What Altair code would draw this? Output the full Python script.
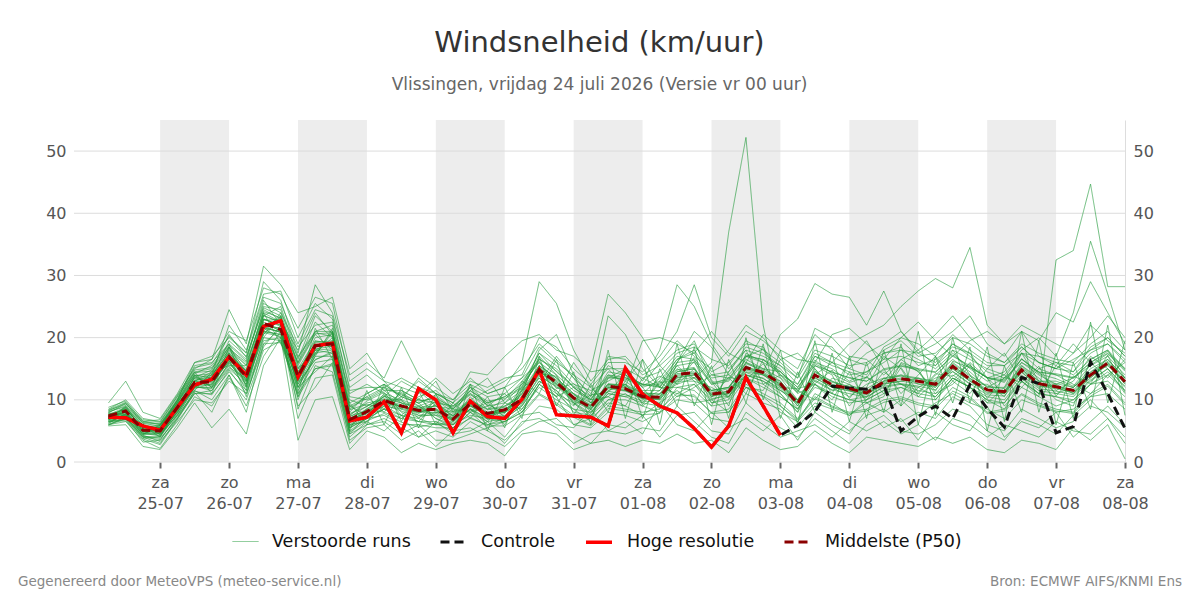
import altair as alt
import pandas as pd

TITLE = "Windsnelheid (km/uur)"
SUBTITLE = "Vlissingen, vrijdag 24 juli 2026 (Versie vr 00 uur)"
FOOTER_LEFT = "Gegenereerd door MeteoVPS (meteo-service.nl)"
FOOTER_RIGHT = "Bron: ECMWF AIFS/KNMI Ens"

SERIES = ["Verstoorde runs", "Controle", "Hoge resolutie", "Middelste (P50)"]
SERIES_COLORS = ["#229a3a", "#111111", "#ff0000", "#8b0000"]
SERIES_WIDTHS = [1, 3, 3.5, 3]
SERIES_DASHES = [[1, 0], [9, 5], [1, 0], [9, 5]]
SERIES_OPACITY = [0.65, 1, 1, 1]

# forecast steps: every 6 hours from 24-07 06:00 UTC
FIRST_STEP = "2026-07-24 06:00"
STEP_HOURS = 6
DOMAIN_START = "2026-07-23 18:00"
DOMAIN_END = "2026-08-08 00:00"

WEEKDAYS = ["zo", "ma", "di", "wo", "do", "vr", "za"]
TICK_DATES = ["2026-07-25", "2026-07-26", "2026-07-27", "2026-07-28", "2026-07-29",
              "2026-07-30", "2026-07-31", "2026-08-01", "2026-08-02", "2026-08-03",
              "2026-08-04", "2026-08-05", "2026-08-06", "2026-08-07", "2026-08-08"]
SHADED_DAYS = ["2026-07-25", "2026-07-27", "2026-07-29", "2026-07-31",
               "2026-08-02", "2026-08-04", "2026-08-06"]
Y_TICKS = [0, 10, 20, 30, 40, 50]
Y_MAX = 55

HOGE_RESOLUTIE = [
    7.2, 7.1, 5.8, 5.1, 8.8, 12.4, 13.3, 16.9, 14.0, 21.8,
    22.7, 13.7, 18.7, 19.1, 6.6, 7.2, 9.7, 4.7, 11.8, 10.0,
    4.7, 9.8, 7.3, 7.0, 10.1, 14.8, 7.6, 7.4, 7.2, 5.8,
    15.1, 10.9, 9.0, 7.9, 5.4, 2.4, 5.8, 13.6, 9.0, 4.3,
]

CONTROLE = [
    7.2, 7.1, 5.8, 5.1, 8.8, 12.4, 13.3, 16.9, 14.0, 21.8,
    22.7, 13.7, 18.7, 19.1, 6.6, 7.2, 9.7, 4.7, 11.8, 10.0,
    4.7, 9.8, 7.3, 7.0, 10.1, 14.8, 7.6, 7.4, 7.2, 5.8,
    15.1, 10.9, 9.0, 7.9, 5.4, 2.4, 5.8, 13.6, 9.0, 4.3,
    5.9, 8.1, 12.2, 11.9, 11.7, 12.4, 5.0, 7.3, 9.0, 7.0,
    12.4, 8.6, 5.6, 13.6, 12.6, 4.7, 5.7, 16.1, 11.0, 5.4,
]

MIDDELSTE = [
    7.4, 8.2, 5.1, 5.0, 8.8, 12.8, 12.9, 16.9, 13.7, 22.3,
    21.3, 13.8, 18.7, 19.0, 6.8, 8.1, 9.9, 9.0, 8.3, 8.5,
    6.9, 9.4, 7.8, 8.4, 10.1, 14.8, 12.8, 10.3, 8.8, 12.2,
    11.8, 10.5, 10.4, 14.1, 14.4, 10.9, 11.3, 15.2, 14.4, 12.6,
    9.4, 14.0, 12.4, 11.8, 11.1, 12.9, 13.4, 13.0, 12.5, 15.4,
    13.3, 11.6, 11.3, 14.8, 12.6, 12.1, 11.5, 14.0, 15.9, 12.9,
]

VERSTOORDE_RUNS = [
    [8.0, 9.1, 6.0, 4.4, 7.5, 12.0, 13.5, 17.8, 15.0, 24.5,
     23.0, 12.0, 17.0, 21.5, 7.5, 9.8, 11.2, 8.0, 6.5, 9.5,
     7.2, 12.5, 9.0, 6.0, 11.5, 17.0, 14.0, 9.5, 7.0, 13.5,
     15.0, 12.0, 8.5, 16.0, 19.5, 13.0, 9.0, 17.5, 16.0, 11.0,
     8.0, 15.5, 14.0, 9.0, 12.0, 17.0, 15.0, 10.5, 13.0, 18.0,
     14.0, 9.5, 12.0, 17.5, 13.0, 10.0, 9.0, 16.5, 18.0, 13.5],
    [6.5, 7.5, 4.5, 5.5, 9.5, 14.0, 12.0, 15.5, 12.0, 20.5,
     24.0, 15.5, 20.5, 18.0, 5.5, 7.0, 8.5, 10.5, 9.5, 7.0,
     5.5, 8.0, 6.5, 9.5, 8.5, 12.5, 10.5, 12.0, 10.0, 10.5,
     9.0, 13.5, 12.0, 12.0, 11.5, 9.0, 14.5, 18.0, 12.5, 14.0,
     11.0, 12.5, 10.0, 14.5, 9.5, 10.5, 16.0, 15.0, 10.0, 13.0,
     16.0, 13.5, 9.0, 12.0, 15.0, 14.0, 12.5, 11.0, 14.0, 16.0],
    [7.0, 8.5, 5.5, 6.0, 10.0, 15.5, 16.0, 19.0, 16.5, 26.0,
     22.0, 16.0, 22.5, 20.0, 9.0, 10.5, 12.0, 11.0, 9.0, 10.0,
     8.0, 10.0, 11.5, 13.0, 15.0, 19.0, 16.5, 13.5, 11.0, 15.5,
     14.0, 12.5, 16.0, 19.5, 17.0, 15.0, 18.0, 22.0, 20.0, 16.5,
     14.0, 19.0, 18.5, 15.0, 17.5, 19.0, 21.0, 17.5, 19.0, 21.0,
     23.5, 19.0, 17.0, 21.0, 19.5, 24.0, 22.5, 29.0, 24.0, 19.0],
    [7.8, 7.0, 4.2, 3.8, 7.0, 11.0, 11.5, 15.0, 12.5, 21.0,
     20.5, 12.5, 16.5, 17.5, 6.0, 6.5, 9.0, 7.5, 7.0, 6.0,
     6.5, 8.5, 6.0, 7.0, 9.0, 13.0, 11.5, 8.0, 7.5, 10.0,
     11.0, 9.0, 11.0, 12.5, 13.5, 16.0, 37.0, 52.2, 22.0, 9.0,
     6.5, 11.0, 9.5, 7.5, 10.0, 11.5, 9.0, 12.0, 10.5, 13.5,
     12.0, 10.0, 8.5, 13.0, 10.5, 9.0, 10.0, 12.5, 13.0, 10.5],
    [6.0, 6.5, 3.5, 2.2, 6.0, 10.5, 9.0, 13.5, 10.0, 18.0,
     19.5, 10.5, 15.0, 15.5, 4.5, 6.0, 7.0, 5.5, 4.0, 5.0,
     4.0, 6.5, 5.0, 3.5, 6.0, 9.0, 8.5, 6.0, 5.5, 8.0,
     7.5, 6.5, 8.0, 10.0, 9.5, 7.0, 6.5, 11.0, 9.5, 8.5,
     5.5, 9.0, 7.0, 5.0, 7.5, 8.5, 6.5, 8.0, 7.0, 10.5,
     9.0, 6.0, 5.0, 8.5, 7.0, 5.5, 6.5, 9.0, 8.0, 5.5],
    [8.5, 10.0, 7.0, 6.5, 10.5, 14.5, 15.0, 18.5, 14.5, 23.5,
     25.0, 17.0, 21.0, 22.0, 10.0, 9.0, 10.5, 13.0, 11.5, 9.0,
     8.5, 11.0, 8.5, 10.0, 13.0, 16.5, 15.0, 12.0, 9.5, 14.0,
     13.0, 11.0, 13.5, 17.0, 16.5, 12.5, 13.0, 16.5, 15.0, 14.5,
     12.0, 16.0, 15.0, 13.0, 14.5, 16.0, 18.0, 16.5, 15.0, 17.5,
     15.0, 13.0, 14.0, 12.0, 10.5, 32.5, 34.0, 44.7, 28.2, 28.2],
    [7.2, 8.0, 5.0, 4.8, 8.5, 13.0, 14.0, 22.0, 18.0, 27.0,
     27.5, 20.0, 25.5, 23.0, 12.0, 14.0, 11.5, 9.5, 7.5, 8.0,
     7.5, 9.0, 8.0, 8.0, 11.0, 18.0, 20.5, 14.0, 10.5, 23.5,
     20.5, 15.0, 12.0, 11.0, 12.5, 10.0, 11.0, 14.0, 13.0, 11.5,
     10.0, 13.0, 11.5, 12.5, 11.0, 14.5, 12.5, 11.0, 14.0, 16.5,
     14.5, 12.0, 13.5, 16.0, 14.0, 12.5, 13.5, 15.5, 17.0, 14.0],
    [6.8, 7.2, 4.0, 3.0, 7.0, 11.5, 10.0, 14.0, 9.0, 17.0,
     21.0, 9.0, 12.0, 16.0, 3.5, 5.5, 6.0, 3.5, 5.0, 2.5,
     5.0, 5.5, 4.0, 2.5, 5.0, 6.5, 7.0, 4.5, 3.0, 6.0,
     5.5, 7.5, 4.0, 7.5, 8.0, 5.0, 4.5, 9.5, 7.0, 5.5,
     4.0, 7.0, 5.0, 3.0, 6.0, 7.5, 5.0, 4.5, 6.0, 8.5,
     7.5, 5.0, 3.5, 7.0, 6.0, 4.5, 7.5, 10.0, 7.0, 4.0],
    [7.5, 8.5, 5.5, 5.5, 9.5, 13.5, 13.0, 16.0, 13.0, 21.5,
     21.0, 14.5, 19.0, 18.5, 7.5, 9.5, 10.0, 10.0, 9.0, 7.5,
     7.0, 10.5, 7.5, 9.0, 10.5, 14.0, 12.0, 11.0, 8.0, 11.5,
     12.5, 10.0, 11.5, 15.0, 13.5, 11.5, 12.0, 15.5, 14.0, 13.0,
     9.0, 14.0, 13.0, 11.5, 10.5, 13.5, 14.0, 12.5, 12.0, 15.0,
     13.0, 11.5, 11.0, 15.0, 12.5, 12.0, 11.0, 13.5, 16.0, 12.5],
    [9.5, 13.0, 8.0, 7.0, 11.0, 16.0, 17.0, 20.0, 17.5, 29.0,
     26.0, 17.5, 28.5, 24.0, 14.0, 16.0, 13.5, 19.5, 14.0, 12.0,
     10.0, 13.5, 11.0, 12.0, 16.0, 29.0, 25.5, 18.0, 13.0, 16.5,
     17.0, 14.0, 15.5, 18.0, 19.0, 14.5, 16.0, 19.0, 18.5, 14.0,
     12.5, 17.5, 16.0, 15.0, 14.0, 18.5, 20.0, 19.0, 17.0, 20.5,
     18.0, 16.0, 15.5, 18.5, 16.0, 15.0, 17.5, 22.0, 19.5, 17.5],
    [6.2, 7.8, 4.8, 4.5, 8.0, 12.5, 12.5, 17.0, 14.0, 22.0,
     21.5, 13.0, 18.0, 19.5, 6.5, 8.0, 9.5, 9.0, 8.0, 8.5,
     6.5, 9.0, 7.5, 8.0, 9.5, 14.5, 12.5, 10.0, 8.5, 12.0,
     11.5, 10.5, 10.0, 13.5, 14.0, 10.5, 11.5, 14.5, 14.0, 12.0,
     9.5, 13.5, 12.0, 11.5, 11.0, 12.5, 13.0, 13.5, 12.0, 15.5,
     13.5, 11.0, 11.5, 14.5, 12.0, 12.5, 11.0, 14.0, 15.5, 13.0],
    [7.0, 7.6, 5.3, 5.3, 9.0, 13.0, 14.5, 18.0, 15.5, 24.0,
     22.5, 14.0, 20.0, 20.5, 8.0, 11.0, 12.5, 10.5, 13.0, 11.0,
     9.5, 12.0, 10.5, 11.0, 13.5, 16.0, 13.0, 10.5, 9.0, 17.0,
     16.5, 13.0, 18.0, 28.5, 25.0, 19.0, 15.0, 18.0, 17.0, 15.5,
     13.5, 21.5, 20.0, 17.0, 16.5, 14.0, 16.5, 18.0, 15.5, 19.0,
     17.0, 14.5, 13.5, 17.5, 15.0, 16.0, 14.5, 18.5, 20.0, 17.0],
    [6.5, 6.8, 3.2, 3.5, 7.5, 11.0, 11.0, 14.5, 11.5, 19.5,
     20.0, 11.5, 16.0, 16.5, 5.0, 7.0, 7.5, 6.0, 6.0, 5.5,
     5.5, 7.0, 6.0, 6.5, 8.0, 11.0, 9.5, 7.5, 6.0, 9.0,
     8.5, 8.0, 8.5, 11.0, 10.5, 8.0, 8.5, 12.5, 11.0, 9.5,
     7.0, 10.5, 9.0, 8.0, 8.5, 10.0, 10.5, 9.5, 9.0, 12.0,
     10.5, 8.0, 8.5, 11.0, 9.5, 8.5, 8.0, 11.0, 12.5, 9.5],
    [8.2, 9.5, 6.2, 5.8, 9.8, 14.0, 13.5, 19.5, 17.0, 25.0,
     24.5, 16.5, 23.5, 21.0, 11.0, 12.5, 11.0, 8.5, 10.5, 11.5,
     9.0, 11.5, 9.5, 10.5, 12.0, 17.5, 15.5, 12.5, 11.5, 13.0,
     14.5, 12.0, 13.0, 16.5, 17.5, 13.5, 14.0, 17.0, 16.5, 15.0,
     11.5, 17.0, 15.5, 14.5, 13.5, 17.5, 18.5, 15.5, 16.5, 18.5,
     17.5, 13.5, 14.5, 18.0, 20.0, 17.0, 24.0, 35.5, 27.0, 18.0],
    [5.8, 6.0, 2.5, 2.0, 5.5, 9.5, 5.5, 8.5, 4.5, 15.5,
     20.0, 3.5, 10.0, 10.5, 2.0, 5.0, 4.0, 1.5, 3.0, 2.0,
     3.0, 3.5, 3.0, 1.0, 4.5, 5.0, 4.5, 2.0, 3.0, 3.5,
     2.5, 3.5, 3.0, 4.5, 3.0, 3.5, 1.5, 5.5, 3.5, 2.0,
     2.5, 5.0, 3.0, 1.5, 4.0, 3.5, 3.0, 2.5, 4.0, 3.0,
     4.0, 2.0, 1.5, 3.5, 3.0, 2.0, 5.5, 3.5, 6.0, 0.5],
    [7.6, 8.8, 5.8, 5.2, 9.2, 13.5, 14.0, 17.5, 14.5, 23.0,
     22.0, 15.0, 19.5, 19.0, 7.0, 8.5, 10.5, 9.5, 8.5, 9.0,
     7.0, 10.0, 8.0, 8.5, 10.0, 15.5, 13.5, 11.0, 9.0, 12.5,
     12.0, 11.0, 10.5, 14.5, 15.0, 11.5, 12.0, 16.0, 15.0, 13.5,
     10.0, 14.5, 13.0, 12.0, 11.5, 13.0, 14.0, 13.5, 13.0, 16.0,
     14.0, 12.0, 12.0, 15.5, 13.0, 13.0, 12.0, 14.5, 16.5, 13.5],
    [6.9, 7.4, 4.6, 4.2, 8.2, 12.2, 11.5, 16.0, 12.5, 21.0,
     20.5, 12.5, 17.5, 18.0, 6.0, 7.5, 9.0, 8.5, 7.5, 7.5,
     6.0, 8.5, 7.0, 7.5, 9.5, 13.5, 11.5, 9.0, 15.0, 27.0,
     24.0, 20.0, 15.5, 12.5, 15.0, 9.5, 10.5, 13.5, 12.5, 10.5,
     8.5, 12.0, 11.0, 10.0, 10.5, 12.0, 12.5, 11.5, 11.0, 14.0,
     12.0, 10.5, 10.0, 13.5, 11.5, 11.0, 10.5, 13.0, 15.0, 12.0],
    [8.8, 9.8, 6.5, 6.8, 10.8, 15.0, 16.5, 21.0, 19.5, 28.0,
     27.0, 21.5, 26.5, 25.5, 13.0, 15.0, 13.0, 12.0, 11.0, 13.5,
     11.0, 13.0, 12.0, 13.5, 14.0, 20.0, 18.5, 15.0, 12.5, 16.0,
     16.0, 14.5, 17.0, 21.0, 28.5, 20.0, 17.0, 21.0, 19.5, 17.0,
     15.0, 20.5, 18.0, 16.5, 15.5, 18.0, 19.5, 17.0, 17.5, 20.0,
     19.0, 17.0, 16.0, 19.0, 17.5, 16.5, 16.0, 19.0, 21.0, 18.0],
    [7.3, 8.0, 5.2, 4.9, 8.6, 12.6, 13.2, 16.5, 13.5, 22.5,
     21.0, 13.5, 18.5, 19.0, 6.8, 8.0, 9.8, 9.0, 8.2, 8.3,
     6.8, 9.2, 7.6, 8.2, 10.0, 14.6, 12.6, 10.2, 8.6, 12.0,
     11.5, 10.2, 10.2, 13.8, 14.2, 10.8, 11.0, 15.0, 14.2, 12.5,
     10.0, 14.0, 16.0, 19.0, 20.5, 22.0, 25.0, 27.5, 29.5, 28.0,
     34.5, 22.0, 19.0, 21.0, 17.0, 15.5, 14.0, 16.5, 18.0, 15.0],
    [6.4, 7.1, 4.4, 4.6, 8.0, 12.0, 12.0, 15.8, 12.8, 20.0,
     19.5, 12.0, 17.0, 17.0, 5.5, 7.0, 8.5, 7.0, 6.5, 6.5,
     5.5, 8.0, 5.5, 6.5, 8.5, 12.0, 10.0, 8.5, 6.5, 10.0,
     10.0, 9.0, 8.0, 12.0, 12.5, 9.0, 9.5, 13.5, 12.0, 10.5,
     8.5, 12.5, 11.0, 10.0, 9.5, 11.0, 12.0, 11.0, 10.5, 13.5,
     12.0, 10.0, 9.5, 13.0, 11.0, 10.5, 9.5, 12.5, 14.0, 11.5],
    [7.1, 8.3, 4.9, 5.9, 9.9, 14.5, 11.0, 18.5, 12.0, 24.0,
     19.0, 15.0, 17.5, 21.0, 5.0, 11.5, 6.0, 12.0, 5.5, 11.0,
     4.5, 12.5, 5.0, 12.0, 7.0, 17.0, 9.0, 14.5, 6.0, 18.0,
     7.0, 16.5, 6.0, 19.0, 9.0, 15.5, 7.0, 20.0, 10.0, 18.0,
     6.0, 19.5, 8.0, 17.0, 7.0, 18.0, 9.0, 21.0, 7.5, 20.0,
     9.5, 18.5, 6.5, 21.0, 8.0, 17.5, 7.0, 22.5, 9.5, 19.5],
    [7.9, 7.5, 5.8, 4.0, 9.0, 11.5, 14.5, 15.5, 15.5, 21.0,
     23.5, 11.0, 21.5, 16.5, 9.5, 6.0, 12.5, 6.5, 11.5, 6.0,
     9.5, 7.0, 10.5, 5.5, 13.0, 11.0, 16.5, 7.5, 12.5, 8.0,
     15.5, 7.0, 15.0, 9.0, 18.5, 6.0, 16.5, 9.5, 19.0, 7.0,
     14.5, 8.0, 17.5, 6.5, 16.0, 8.0, 19.0, 6.0, 17.0, 9.5,
     18.5, 5.0, 15.5, 8.0, 19.5, 6.0, 16.0, 8.5, 22.0, 7.5],
    [6.7, 9.0, 5.0, 5.6, 9.6, 14.2, 15.5, 19.0, 13.0, 23.0,
     22.0, 10.0, 17.5, 20.0, 8.5, 10.5, 8.0, 11.5, 10.0, 13.0,
     8.0, 11.5, 13.5, 9.5, 11.5, 13.5, 10.5, 16.0, 12.0, 9.0,
     13.0, 16.5, 12.0, 16.0, 21.0, 18.5, 14.0, 12.0, 11.5, 16.5,
     17.5, 15.0, 11.0, 16.5, 19.5, 15.0, 11.0, 14.0, 17.0, 13.0,
     11.0, 15.0, 17.5, 13.0, 11.0, 15.5, 19.0, 16.0, 13.5, 16.5],
    [7.4, 8.6, 5.4, 4.5, 8.0, 12.0, 13.8, 18.2, 16.0, 23.5,
     22.5, 18.0, 24.0, 20.5, 9.0, 7.5, 11.0, 10.0, 7.0, 10.0,
     8.5, 8.0, 9.0, 11.0, 8.0, 12.5, 17.0, 13.5, 9.5, 10.5,
     12.5, 9.5, 13.0, 10.5, 12.0, 14.0, 13.5, 11.0, 16.5, 14.0,
     11.5, 10.0, 13.5, 12.5, 10.0, 13.0, 16.5, 14.5, 11.0, 12.5,
     15.5, 13.5, 11.0, 16.0, 14.5, 11.5, 13.0, 17.0, 15.0, 11.0],
    [6.3, 7.7, 4.3, 3.3, 6.5, 10.0, 9.5, 13.0, 11.0, 18.5,
     22.0, 8.5, 15.5, 14.5, 4.0, 6.5, 5.0, 7.5, 4.0, 6.5,
     4.5, 5.0, 6.5, 4.0, 7.5, 8.0, 6.0, 5.5, 8.5, 5.0,
     6.5, 4.5, 9.5, 6.0, 5.0, 8.0, 5.5, 7.0, 5.0, 7.5,
     3.5, 8.0, 6.0, 4.5, 8.5, 5.5, 7.0, 3.5, 8.0, 6.0,
     5.0, 9.0, 4.0, 6.5, 5.5, 8.0, 4.0, 6.5, 9.0, 6.0],
    [8.1, 8.9, 6.4, 6.2, 10.2, 14.8, 15.2, 18.8, 16.2, 25.5,
     24.0, 18.5, 22.0, 22.5, 10.5, 10.0, 11.5, 11.5, 10.0, 9.5,
     9.0, 11.0, 9.5, 10.5, 12.5, 17.5, 14.5, 12.0, 10.0, 13.5,
     13.5, 12.5, 12.0, 15.5, 16.0, 12.5, 13.5, 17.0, 16.0, 14.5,
     12.0, 15.5, 14.5, 13.5, 13.0, 15.0, 15.5, 15.0, 14.5, 17.0,
     15.5, 13.5, 13.0, 16.5, 14.5, 14.0, 13.5, 16.0, 17.5, 15.0],
    [5.9, 7.3, 4.1, 4.0, 7.8, 12.3, 12.4, 16.4, 11.5, 21.5,
     20.0, 10.5, 18.0, 17.5, 5.5, 8.5, 8.0, 7.0, 9.0, 7.0,
     6.0, 8.5, 6.5, 7.0, 9.0, 13.0, 11.0, 9.5, 7.5, 11.0,
     10.5, 9.5, 9.0, 13.0, 13.0, 9.5, 10.0, 14.0, 13.0, 11.0,
     8.0, 12.5, 10.5, 9.5, 10.0, 11.5, 12.0, 10.5, 10.0, 13.5,
     12.0, 9.5, 9.5, 13.5, 11.0, 10.5, 10.0, 12.5, 14.5, 11.5],
    [7.7, 8.4, 5.6, 5.4, 9.0, 13.2, 13.6, 17.2, 14.2, 23.0,
     21.8, 14.5, 19.2, 19.5, 7.2, 9.0, 10.2, 9.5, 8.8, 9.0,
     7.5, 10.0, 8.5, 9.0, 11.0, 15.5, 13.5, 11.0, 9.5, 12.5,
     12.5, 11.0, 11.0, 14.5, 15.0, 11.5, 12.0, 16.0, 14.5, 20.5,
     23.0, 28.7, 27.0, 26.5, 22.0, 27.5, 21.0, 18.0, 20.5, 23.5,
     20.0, 17.5, 16.0, 18.5, 16.0, 15.0, 16.5, 18.0, 19.0, 16.5],
    [7.0, 8.1, 5.0, 5.1, 8.7, 12.7, 12.8, 16.8, 13.6, 22.2,
     21.2, 13.7, 18.6, 18.9, 6.7, 8.0, 9.8, 8.9, 8.2, 8.4,
     6.8, 9.3, 7.7, 8.3, 10.0, 14.7, 12.7, 10.2, 8.7, 12.1,
     11.7, 10.4, 10.3, 14.0, 14.3, 10.8, 11.2, 15.1, 14.3, 12.5,
     9.3, 13.9, 12.3, 11.7, 11.0, 12.8, 13.3, 12.9, 12.4, 15.3,
     13.2, 11.5, 11.2, 14.7, 12.5, 12.0, 11.4, 13.9, 15.8, 12.8],
    [6.6, 6.6, 3.8, 4.1, 8.4, 13.8, 12.0, 17.5, 10.5, 20.0,
     23.5, 12.0, 14.5, 17.0, 4.5, 7.5, 8.5, 7.5, 6.5, 6.0,
     6.0, 7.5, 7.0, 6.5, 8.0, 12.5, 10.5, 6.0, 7.0, 9.5,
     9.0, 7.5, 9.5, 11.5, 9.5, 10.0, 8.0, 12.0, 10.5, 8.0,
     6.5, 9.5, 8.5, 7.5, 9.5, 8.0, 10.0, 7.5, 9.5, 11.0,
     9.5, 8.5, 7.0, 10.0, 9.0, 8.0, 8.5, 10.5, 11.0, 8.5],
    [7.5, 8.0, 6.0, 5.5, 10.0, 16.0, 16.5, 24.5, 19.0, 31.5,
     28.5, 24.0, 25.0, 26.5, 15.0, 17.5, 13.0, 10.0, 13.5, 11.0,
     9.5, 14.5, 14.0, 17.0, 19.5, 20.5, 18.0, 17.0, 14.5, 15.0,
     12.0, 19.5, 20.0, 19.0, 17.5, 21.0, 17.5, 16.0, 20.5, 18.0,
     16.5, 16.0, 20.5, 21.5, 19.0, 16.5, 20.0, 22.5, 19.5, 17.0,
     19.5, 21.0, 19.0, 22.0, 20.5, 19.0, 17.5, 20.0, 23.5, 20.0],
    [6.9, 7.9, 4.7, 4.3, 7.6, 11.8, 12.6, 16.2, 14.8, 21.8,
     20.8, 13.0, 18.0, 18.2, 6.2, 8.6, 10.0, 9.2, 7.8, 9.2,
     7.8, 9.8, 6.8, 7.8, 11.5, 15.5, 11.0, 8.5, 8.0, 11.0,
     10.5, 11.5, 11.5, 15.5, 13.0, 12.0, 10.5, 14.0, 13.5, 11.5,
     9.5, 15.0, 12.0, 10.5, 12.5, 13.5, 12.5, 12.0, 13.5, 14.5,
     12.5, 12.5, 10.5, 15.5, 13.5, 11.0, 12.0, 15.0, 16.5, 13.5],
    [6.1, 7.0, 3.7, 2.8, 6.8, 11.2, 8.0, 14.0, 8.0, 19.0,
     21.5, 7.0, 13.5, 14.0, 3.0, 6.0, 6.5, 4.5, 6.0, 3.5,
     3.5, 4.5, 5.5, 3.0, 6.5, 7.0, 5.5, 3.0, 4.5, 5.0,
     4.5, 5.5, 5.0, 9.0, 6.5, 4.0, 3.0, 8.0, 6.0, 4.0,
     5.0, 6.0, 4.0, 6.5, 5.0, 6.5, 4.5, 6.0, 3.5, 7.0,
     6.0, 4.0, 6.0, 5.0, 4.0, 6.5, 5.0, 4.5, 7.0, 3.0],
    [8.3, 9.3, 6.6, 6.0, 9.6, 13.6, 14.8, 20.5, 16.8, 24.8,
     23.5, 16.0, 21.0, 21.0, 9.5, 11.0, 12.5, 10.5, 9.5, 10.5,
     8.5, 12.0, 9.0, 9.5, 12.5, 16.0, 14.0, 11.5, 10.0, 14.5,
     14.0, 12.5, 12.5, 16.5, 18.0, 14.0, 14.5, 18.5, 17.5, 15.5,
     12.5, 17.0, 16.0, 14.0, 14.5, 16.5, 17.0, 16.0, 15.5, 18.0,
     16.5, 15.0, 14.0, 17.5, 16.0, 15.0, 14.5, 17.5, 19.0, 16.0],
    [7.2, 7.7, 5.3, 5.7, 9.3, 12.9, 13.3, 16.6, 13.2, 22.0,
     21.5, 14.0, 18.8, 18.8, 7.0, 8.3, 9.6, 8.8, 8.4, 8.6,
     7.0, 9.5, 7.8, 8.5, 10.2, 14.9, 12.9, 10.4, 8.9, 12.3,
     11.9, 10.6, 10.5, 14.2, 14.5, 11.0, 11.4, 15.3, 14.5, 12.7,
     9.5, 14.1, 12.5, 11.9, 11.2, 13.0, 13.5, 13.1, 12.6, 15.5,
     13.4, 11.7, 11.4, 14.9, 12.7, 12.2, 11.6, 14.1, 16.0, 13.0],
    [7.0, 8.8, 5.9, 4.7, 8.3, 13.9, 14.2, 18.6, 12.2, 22.8,
     22.9, 16.8, 20.8, 20.2, 8.4, 9.3, 8.6, 11.2, 9.4, 10.8,
     8.6, 10.8, 9.2, 8.0, 12.2, 16.3, 11.8, 12.6, 10.2, 13.7,
     13.3, 12.2, 13.8, 12.6, 16.8, 13.2, 10.2, 16.9, 18.2, 13.6,
     11.2, 16.4, 14.2, 12.8, 13.6, 12.2, 15.8, 14.6, 11.4, 16.2,
     15.2, 13.6, 12.8, 16.6, 14.2, 13.4, 12.2, 15.6, 17.4, 14.6],
    [6.6, 7.4, 4.6, 4.8, 8.9, 12.1, 11.8, 15.2, 13.4, 20.8,
     20.2, 12.8, 16.4, 17.8, 5.8, 7.2, 9.2, 8.2, 7.2, 7.8,
     6.2, 8.6, 7.0, 7.4, 9.2, 13.8, 12.2, 9.6, 7.8, 11.4,
     10.8, 9.8, 9.6, 13.2, 13.6, 10.2, 10.6, 14.4, 13.4, 11.8,
     8.6, 13.2, 11.6, 11.0, 10.4, 12.2, 12.6, 12.2, 11.6, 14.6,
     12.6, 10.8, 10.6, 14.0, 11.8, 11.4, 10.8, 13.2, 15.0, 12.2],
    [7.6, 8.0, 4.4, 5.9, 9.4, 12.2, 14.0, 17.6, 14.6, 20.5,
     23.2, 15.2, 17.2, 20.8, 7.8, 8.9, 10.8, 7.5, 10.2, 8.0,
     8.2, 8.2, 9.6, 7.2, 11.8, 14.2, 13.8, 9.2, 10.8, 11.2,
     14.2, 9.2, 12.8, 13.0, 16.2, 10.4, 13.6, 13.2, 15.8, 12.0,
     11.8, 12.6, 14.8, 10.2, 13.8, 11.0, 15.2, 11.2, 14.2, 13.8,
     15.8, 10.2, 13.6, 12.8, 15.4, 10.6, 13.8, 12.6, 17.2, 11.2],
    [8.4, 9.6, 6.8, 6.4, 10.6, 15.2, 15.8, 20.2, 17.6, 26.5,
     25.5, 19.0, 24.5, 23.5, 11.5, 12.0, 12.0, 13.5, 12.0, 11.0,
     10.0, 12.5, 11.0, 12.0, 13.5, 18.5, 16.0, 14.0, 12.0, 15.0,
     15.0, 13.5, 14.5, 17.5, 18.5, 16.5, 15.5, 19.5, 18.0, 16.0,
     13.5, 18.0, 17.0, 15.5, 16.0, 17.5, 18.0, 17.5, 16.0, 19.0,
     17.5, 15.5, 15.5, 17.5, 17.0, 16.0, 15.5, 18.0, 20.0, 17.0],
    [6.0, 6.9, 4.0, 3.6, 7.2, 11.4, 10.8, 14.8, 11.0, 19.0,
     19.2, 11.0, 15.0, 15.8, 4.8, 6.6, 7.8, 6.4, 5.6, 6.2,
     5.0, 7.2, 5.8, 5.8, 7.6, 10.8, 9.2, 7.2, 5.8, 8.6,
     8.2, 7.6, 7.8, 10.6, 10.8, 7.8, 8.0, 12.0, 10.6, 9.0,
     6.8, 10.2, 8.8, 7.8, 8.2, 9.6, 10.2, 9.2, 8.6, 11.4,
     10.2, 7.8, 8.2, 10.8, 9.2, 8.2, 7.8, 10.6, 12.2, 9.2],
    [7.3, 8.7, 5.5, 5.0, 9.1, 13.1, 12.2, 17.4, 14.6, 23.6,
     22.4, 13.2, 19.4, 19.2, 7.4, 8.2, 10.6, 9.8, 8.6, 9.6,
     7.4, 9.8, 8.4, 8.8, 10.8, 15.2, 13.2, 10.8, 9.2, 12.6,
     12.2, 11.2, 10.8, 14.8, 15.2, 11.2, 11.8, 15.8, 14.8, 13.0,
     9.8, 14.6, 12.8, 12.2, 11.8, 13.4, 13.8, 13.4, 12.8, 15.8,
     13.8, 12.2, 11.8, 15.2, 13.0, 12.6, 12.0, 14.4, 16.2, 13.4],
    [6.8, 7.6, 4.9, 5.3, 8.4, 12.4, 13.0, 16.2, 13.0, 21.6,
     20.9, 13.4, 18.2, 18.6, 6.4, 7.8, 9.4, 8.6, 8.0, 8.0,
     6.6, 9.0, 7.4, 8.0, 9.8, 14.2, 12.4, 9.8, 8.4, 11.8,
     11.4, 10.2, 10.0, 13.6, 14.0, 10.6, 11.0, 14.8, 14.0, 12.2,
     9.0, 13.6, 12.0, 11.4, 10.8, 12.6, 13.0, 12.6, 12.2, 15.0,
     13.0, 11.2, 11.0, 14.4, 12.2, 11.8, 11.2, 13.6, 15.6, 12.6],
    [7.9, 9.4, 6.3, 6.1, 9.9, 14.4, 14.6, 18.4, 15.6, 24.2,
     23.2, 15.8, 20.6, 20.8, 8.8, 10.2, 11.8, 10.8, 9.8, 10.2,
     8.8, 11.4, 9.8, 10.2, 11.8, 16.6, 14.6, 12.2, 10.6, 14.0,
     13.6, 12.4, 12.2, 16.0, 16.4, 12.8, 13.2, 17.2, 16.4, 14.6,
     11.2, 15.8, 14.4, 13.6, 13.0, 14.8, 15.4, 14.8, 14.4, 17.2,
     15.2, 13.6, 13.2, 16.6, 14.4, 14.2, 13.6, 16.0, 17.8, 14.8],
]

PLOT_W = 1051
PLOT_H = 342


def to_ms(stamp):
    return int(pd.Timestamp(stamp, tz="UTC").timestamp() * 1000)


def step_times(n):
    first = pd.Timestamp(FIRST_STEP, tz="UTC")
    return [int((first + pd.Timedelta(hours=STEP_HOURS * i)).timestamp() * 1000) for i in range(n)]


def series_frame(values, name, member):
    return pd.DataFrame({"tijd": step_times(len(values)), "waarde": values,
                         "serie": name, "run": member})


ens_df = pd.concat([series_frame(v, SERIES[0], f"run{i + 1:02d}")
                    for i, v in enumerate(VERSTOORDE_RUNS)], ignore_index=True)
ctrl_df = series_frame(CONTROLE, SERIES[1], "controle")
hres_df = series_frame(HOGE_RESOLUTIE, SERIES[2], "hres")
p50_df = series_frame(MIDDELSTE, SERIES[3], "p50")

band_df = pd.DataFrame({
    "start": [to_ms(d) for d in SHADED_DAYS],
    "eind": [to_ms(d) + 24 * 3600 * 1000 for d in SHADED_DAYS],
})
grid_df = pd.DataFrame({"v": Y_TICKS})

x_scale = alt.Scale(type="utc", domain=[to_ms(DOMAIN_START), to_ms(DOMAIN_END)], nice=False)
y_scale = alt.Scale(domain=[0, Y_MAX], nice=False, zero=True)

weekday_js = "[" + ",".join(f"'{d}'" for d in WEEKDAYS) + "]"
x_axis = alt.Axis(
    values=[to_ms(d) for d in TICK_DATES],
    labelExpr=f"[{weekday_js}[utcday(datum.value)], utcFormat(datum.value, '%d-%m')]",
    grid=False, domain=False, ticks=True, tickSize=6, tickWidth=2, tickColor="#666666",
    labelFontSize=16, labelColor="#555555", labelPadding=6, labelLineHeight=21,
    labelFlush=False, labelOverlap=False, labelAngle=0, title=None,
)
y_axis_left = alt.Axis(values=Y_TICKS, orient="left", grid=False, domain=False, ticks=False,
                       labelFontSize=16, labelColor="#555555", labelPadding=8, title=None)
y_axis_right = alt.Axis(values=Y_TICKS, orient="right", grid=False, domain=True,
                        domainColor="#dddddd", domainWidth=1, ticks=False,
                        labelFontSize=16, labelColor="#555555", labelPadding=8, title=None)

x_enc = alt.X("tijd:T", scale=x_scale, axis=x_axis)

color_enc = alt.Color("serie:N", scale=alt.Scale(type="ordinal", domain=SERIES, range=SERIES_COLORS), title=None)
dash_enc = alt.StrokeDash("serie:N", scale=alt.Scale(type="ordinal", domain=SERIES, range=SERIES_DASHES), title=None)
width_enc = alt.StrokeWidth("serie:N", scale=alt.Scale(type="ordinal", domain=SERIES, range=SERIES_WIDTHS), title=None)
opac_enc = alt.Opacity("serie:N", scale=alt.Scale(type="ordinal", domain=SERIES, range=SERIES_OPACITY), title=None)

bands = alt.Chart(band_df).mark_rect(color="#ededed").encode(
    x=alt.X("start:T", scale=x_scale, axis=x_axis),
    x2="eind:T",
    y=alt.value(0),
    y2=alt.value(PLOT_H),
)

grid = alt.Chart(grid_df).mark_rule(color="#dcdcdc", strokeWidth=1).encode(
    y=alt.Y("v:Q", scale=y_scale, axis=y_axis_left),
)


def line_layer(df, right_axis=False):
    return alt.Chart(df).mark_line(strokeCap="butt", strokeJoin="miter").encode(
        x=x_enc,
        y=alt.Y("waarde:Q", scale=y_scale, axis=y_axis_right if right_axis else None),
        color=color_enc,
        strokeDash=dash_enc,
        strokeWidth=width_enc,
        opacity=opac_enc,
        detail="run:N",
    )


footer_left = alt.Chart(pd.DataFrame({"t": [FOOTER_LEFT]})).mark_text(
    align="left", baseline="middle", fontSize=13.5, color="#888888", font="DejaVu Sans"
).encode(x=alt.value(-56), y=alt.value(462), text="t:N")

footer_right = alt.Chart(pd.DataFrame({"t": [FOOTER_RIGHT]})).mark_text(
    align="right", baseline="middle", fontSize=13.5, color="#888888", font="DejaVu Sans"
).encode(x=alt.value(1182 - 74), y=alt.value(462), text="t:N")

chart = alt.layer(
    bands,
    grid,
    line_layer(ens_df),
    line_layer(ctrl_df),
    line_layer(hres_df),
    line_layer(p50_df, right_axis=True),
    footer_left,
    footer_right,
).resolve_axis(
    y="independent"
).properties(
    width=PLOT_W,
    height=PLOT_H,
    padding={"left": 74, "top": 120, "right": 75, "bottom": 138},
    autosize=alt.AutoSizeParams(type="none"),
    background="white",
    title=alt.TitleParams(
        text=TITLE,
        subtitle=SUBTITLE,
        anchor="middle",
        fontSize=29,
        fontWeight="normal",
        color="#333333",
        subtitleFontSize=17,
        subtitleColor="#666666",
        subtitlePadding=19,
        offset=27,
        font="DejaVu Sans",
        subtitleFont="DejaVu Sans",
    ),
).configure_view(
    strokeWidth=0
).configure_axis(
    labelFont="DejaVu Sans"
).configure_legend(
    orient="none",
    legendX=158,
    legendY=407,
    direction="horizontal",
    labelFont="DejaVu Sans",
    labelFontSize=17.5,
    labelColor="#111111",
    symbolType="stroke",
    symbolSize=676,
    labelOffset=13,
    columnPadding=23,
    title=None,
)

chart.save("out.html", embed_options={"renderer": "svg", "actions": False})
